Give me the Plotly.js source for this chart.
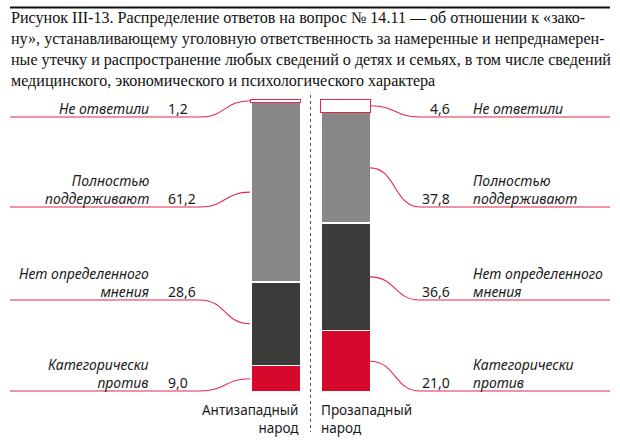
<!DOCTYPE html>
<html>
<head>
<meta charset="utf-8">
<script src="https://cdn.plot.ly/plotly-3.0.1.min.js"></script>
<style>html,body{margin:0;padding:0;background:#fff}#chart{width:620px;height:440px}</style>
</head>
<body>
<div id="chart"></div>
<script>
// ---- data ----
const groups = ['Антизападный народ', 'Прозападный народ'];
const groupLabels = ['Антизападный<br>народ', 'Прозападный<br>народ'];
const seriesNames = ['Категорически против', 'Нет определенного мнения', 'Полностью поддерживают', 'Не ответили'];
const seriesLabels = ['Категорически<br>против', 'Нет определенного<br>мнения', 'Полностью<br>поддерживают', 'Не ответили'];
const against = [9.0, 21.0];
const noOpinion = [28.6, 36.6];
const support = [61.2, 37.8];
const noAnswer = [1.2, 4.6];
const titleLines = [
  'Рисунок III-13. Распределение ответов на вопрос № 14.11 — об отношении к «зако-',
  'ну», устанавливающему уголовную ответственность за намеренные и непреднамерен-',
  'ные утечку и распространение любых сведений о детях и семьях, в том числе сведений',
  'медицинского, экономического и психологического характера'
];

// ---- layout geometry ----
const W = 620, H = 440, MT = 99, MB = 48;
const PH = H - MT - MB;
const px2x = p => p / W;
const px2py = p => (H - MB - p) / PH;        // paper y
const px2dy = p => (H - MB - p) / PH * 100;   // data y (range 0..100)

const series = [against, noOpinion, support, noAnswer];
const fills = ['#d6082b', '#3b3b39', '#878787', '#ffffff'];
const RED = '#e2294c';

const traces = series.map((vals, i) => ({
  type: 'bar',
  x: groups,
  y: vals,
  name: seriesNames[i],
  width: 0.707,
  marker: {
    color: fills[i],
    line: {color: i === 3 ? RED : '#ffffff', width: i === 3 ? 1 : 1.5}
  },
  hoverinfo: 'skip'
}));

const fmt = v => v.toFixed(1).replace('.', ',');

// label baseline lines (pixels), in order of seriesLabels
const labelLinePx = [391, 300, 207, 117];

const shapes = [];
const annotations = [];

// top rule
shapes.push({type: 'line', xref: 'paper', yref: 'paper', x0: px2x(10), x1: px2x(610), y0: px2py(7.5), y1: px2py(7.5), line: {color: '#111', width: 2}});
// dashed divider
shapes.push({type: 'line', xref: 'paper', yref: 'paper', x0: px2x(310.5), x1: px2x(310.5), y0: px2py(95), y1: px2py(432), line: {color: '#555', width: 1, dash: 'dot'}});

// title lines
titleLines.forEach((t, i) => {
  annotations.push({xref: 'paper', yref: 'paper', x: px2x(9), y: px2py(18 + 21 * i), xanchor: 'left', yanchor: 'middle',
    text: t, showarrow: false, align: 'left', font: {family: 'Liberation Serif, serif', size: 16.1, color: '#111'}});
});

// group labels
annotations.push({xref: 'paper', yref: 'paper', x: px2x(301), y: px2py(399), xanchor: 'right', yanchor: 'top', align: 'right',
  text: groupLabels[0], showarrow: false, font: {family: 'Noto Sans, sans-serif', size: 13.5, color: '#1a1a1a'}});
annotations.push({xref: 'paper', yref: 'paper', x: px2x(319), y: px2py(399), xanchor: 'left', yanchor: 'top', align: 'left',
  text: groupLabels[1], showarrow: false, font: {family: 'Noto Sans, sans-serif', size: 13.5, color: '#1a1a1a'}});

const labFont = {family: 'Noto Sans, sans-serif', size: 14, color: '#1a1a1a'};
const YS = -3;

[0, 1].forEach(g => {
  let cum = 0;
  series.forEach((vals, i) => {
    const v = vals[g];
    const yc = cum + v / 2;
    cum += v;
    const yl = px2dy(labelLinePx[i]);
    if (g === 0) {
      shapes.push({type: 'path', xref: 'paper', yref: 'y',
        path: `M ${px2x(10)},${yl} L ${px2x(200)},${yl} C ${px2x(226)},${yl} ${px2x(224)},${yc} ${px2x(250)},${yc}`,
        line: {color: RED, width: 1.1}});
      annotations.push({xref: 'paper', yref: 'y', x: px2x(151), y: yl, yshift: YS, xanchor: 'right', yanchor: 'bottom', align: 'right',
        text: '<i>' + seriesLabels[i] + '</i>', showarrow: false, font: labFont});
      annotations.push({xref: 'paper', yref: 'y', x: px2x(166), y: yl, yshift: YS, xanchor: 'left', yanchor: 'bottom',
        text: fmt(v), showarrow: false, font: labFont});
    } else {
      shapes.push({type: 'path', xref: 'paper', yref: 'y',
        path: `M ${px2x(370)},${yc} C ${px2x(396)},${yc} ${px2x(394)},${yl} ${px2x(420)},${yl} L ${px2x(610)},${yl}`,
        line: {color: RED, width: 1.1}});
      annotations.push({xref: 'paper', yref: 'y', x: px2x(471), y: yl, yshift: YS, xanchor: 'left', yanchor: 'bottom', align: 'left',
        text: '<i>' + seriesLabels[i] + '</i>', showarrow: false, font: labFont});
      annotations.push({xref: 'paper', yref: 'y', x: px2x(452), y: yl, yshift: YS, xanchor: 'right', yanchor: 'bottom',
        text: fmt(v), showarrow: false, font: labFont});
    }
  });
});

const layout = {
  width: W, height: H,
  margin: {l: 0, r: 0, t: MT, b: MB, pad: 0},
  barmode: 'stack',
  showlegend: false,
  paper_bgcolor: '#fff', plot_bgcolor: '#fff',
  xaxis: {type: 'category', range: [-275.5 / 70, (W - 275.5) / 70], visible: false, fixedrange: true},
  yaxis: {range: [0, 100], visible: false, fixedrange: true},
  shapes: shapes,
  annotations: annotations
};

Plotly.newPlot('chart', traces, layout, {displayModeBar: false, staticPlot: true});
</script>
</body>
</html>
